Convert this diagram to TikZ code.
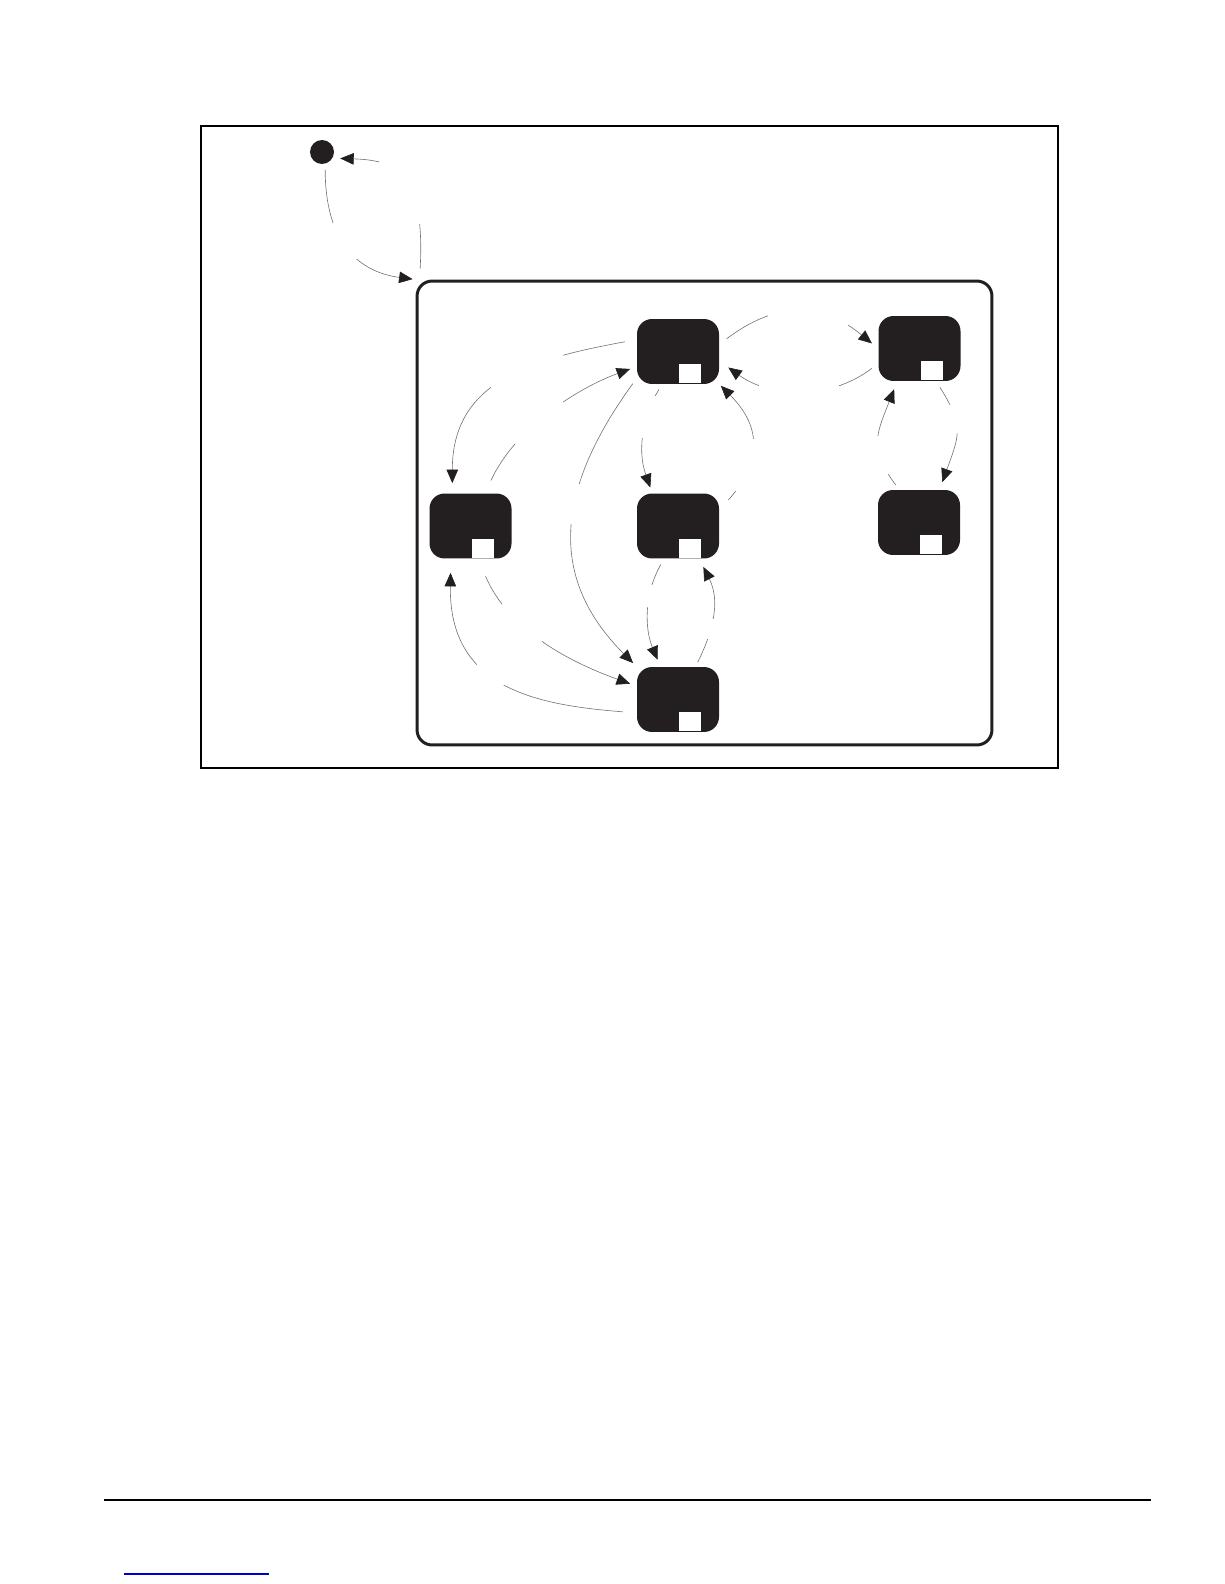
\documentclass[tikz,border=0pt]{standalone}
\usepackage{tikz}
\usetikzlibrary{arrows.meta}
\definecolor{dark}{HTML}{231F20}
\def\whiteslot#1{\fill[white] ([shift={(-18,1)}]#1.south east) rectangle ++(-22,19);}

\begin{document}
\begin{tikzpicture}[x=0.02cm, y=0.02cm,
		statebox/.style={rectangle, rounded corners=0.3cm, fill=dark, minimum width=1.64cm, minimum height=1.3cm, inner sep=0pt},
		startdot/.style={circle, fill=dark, minimum size=0.48cm, inner sep=0pt},
		superbox/.style={rectangle, rounded corners=0.3cm, draw=dark, line width=1.7pt, minimum width=11.5cm, minimum height=9.28cm},
		transition/.style={draw=black!55, line width=0.35pt, -{Triangle[length=0.27cm, width=0.23cm, color=dark]}},
		labelgap/.style={fill=white, inner sep=0pt, outer sep=0pt}]
			%%%%% START %%%%%
			
			\useasboundingbox (0,0) rectangle (1224,-1584);
			
			\draw[line width=0.8pt] (201,-126) rectangle (1058,-768);
			
			\node[startdot] (init) at (322,-152) {};
			\node[superbox] (super) at (704.5,-513) {};
			
			\node[statebox] (s1) at (678,-351.5) {};
			\node[statebox] (s2) at (919.5,-348.5) {};
			\node[statebox] (s3) at (470.5,-526) {};
			\node[statebox] (s4) at (678,-526) {};
			\node[statebox] (s5) at (919,-522.5) {};
			\node[statebox] (s6) at (678,-699.5) {};
			
			\whiteslot{s1} \whiteslot{s2} \whiteslot{s3}
			\whiteslot{s4} \whiteslot{s5} \whiteslot{s6}
			
			\draw[transition, shorten <=0.12cm, shorten >=0.06cm] (init.-75) .. controls +(0,-75) and +(-60,8) .. (super.north west) node[labelgap, pos=.45, minimum width=0.72cm, minimum height=0.72cm] {};
			\draw[transition, shorten <=0.22cm, shorten >=0.15cm] ([shift={(4,0)}]super.north west) .. controls +(6,110) and +(60,-2) .. (init.-30) node[labelgap, pos=.38, minimum width=1.24cm, minimum height=1.24cm] {};
			
			\draw[transition, shorten <=0.18cm, shorten >=0.16cm] (s1.10) .. controls +(60,45) and +(-55,45) .. (s2.west) node[labelgap, pos=.55, minimum width=1.6cm, minimum height=0.8cm] {};
			\draw[transition, shorten <=0.16cm, shorten >=0.22cm] (s2.200) .. controls +(-50,-38) and +(50,-36) .. (s1.-13) node[labelgap, pos=.5, minimum width=1.6cm, minimum height=0.48cm] {};
			
			\draw[transition, shorten <=0.14cm, shorten >=0.16cm] (s2.-63) .. controls +(28,-45) and +(20,55) .. (s5.58) node[labelgap, pos=.35, minimum width=0.6cm, minimum height=0.56cm] {};
			\draw[transition, shorten <=0.12cm, shorten >=0.17cm] (s5.121) .. controls +(-30,40) and +(-22,-55) .. (s2.236) node[labelgap, pos=.35, minimum width=0.48cm, minimum height=0.76cm] {};
			
			\draw[transition, shorten <=0.12cm, shorten >=0.12cm] (s1.244) .. controls +(-18,-30) and +(-16,45) .. (s4.128) node[labelgap, pos=.34, minimum width=0.52cm, minimum height=0.84cm] {};
			\draw[transition, shorten <=0.27cm, shorten >=0.04cm] (s4.21) .. controls +(40,45) and +(45,-45) .. (s1.south east) node[labelgap, pos=.35, minimum width=0.56cm, minimum height=1.04cm] {};
			
			\draw[transition, shorten <=0.13cm, shorten >=0.1cm] (s1.213) .. controls +(-80,-110) and +(-90,90) .. (s6.north west) node[labelgap, pos=.41, minimum width=0.44cm, minimum height=0.8cm] {};
			\draw[transition, shorten <=0.28cm, shorten >=0.14cm] (s3.66) .. controls +(30,65) and +(-60,-22) .. (s1.200) node[labelgap, pos=.43, minimum width=0.96cm, minimum height=0.88cm] {};
			\draw[transition, shorten <=0.24cm, shorten >=0.2cm] (s1.164) .. controls +(-110,-20) and +(0,110) .. (s3.119) node[labelgap, pos=.39, minimum width=1.44cm, minimum height=0.72cm] {};
			
			\draw[transition, shorten <=0.38cm, shorten >=0.14cm] (s3.-77) .. controls +(30,-70) and +(-70,25) .. (s6.162) node[labelgap, pos=.37, minimum width=0.8cm, minimum height=0.88cm] {};
			\draw[transition, shorten <=0.28cm, shorten >=0.28cm] (s6.198) .. controls +(-100,8) and +(-2,-130) .. (s3.239) node[labelgap, pos=.57, minimum width=0.6cm, minimum height=0.52cm] {};
			
			\draw[transition, shorten <=0.13cm, shorten >=0.15cm] (s4.247) .. controls +(-20,-35) and +(-16,38) .. (s6.118) node[labelgap, pos=.35, minimum width=0.36cm, minimum height=0.44cm] {};
			\draw[transition, shorten <=0.1cm, shorten >=0.18cm] (s6.62) .. controls +(16,32) and +(22,-44) .. (s4.-57) node[labelgap, pos=.39, minimum width=0.32cm, minimum height=0.4cm] {};
			
			\draw[line width=0.8pt] (104,-1500) -- (1151,-1500);
			\draw[line width=0.6pt, color=blue!80!black] (124,-1574) -- (269,-1574);
			
			%%%%% END %%%%%
		\end{tikzpicture}
\end{document}
